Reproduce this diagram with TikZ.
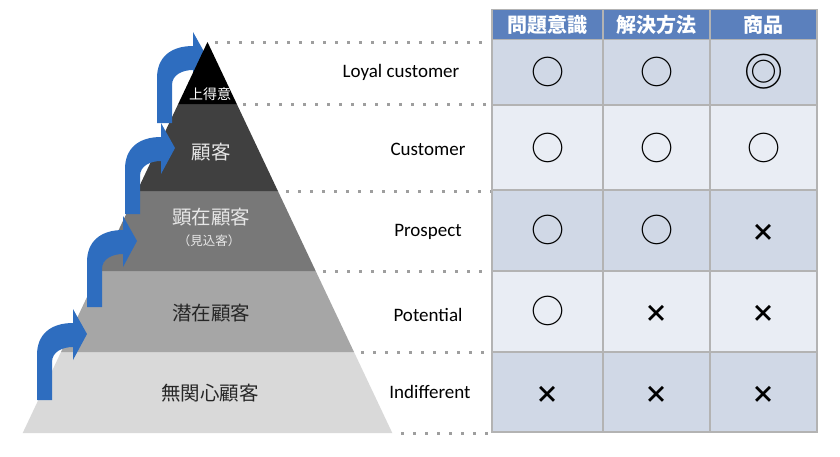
\documentclass[tikz,border=0pt]{standalone}
\usepackage{fontspec}
\setmainfont{Carlito}
\newfontfamily\jp{Noto Sans CJK JP}
\definecolor{arrowblue}{HTML}{2E6DBF}
\definecolor{hdr}{HTML}{5B80BD}
\definecolor{rowA}{HTML}{D0D8E6}
\definecolor{rowB}{HTML}{E9EDF4}
\definecolor{gridc}{HTML}{B3B3B3}
\definecolor{dotc}{HTML}{9E9E9E}
\definecolor{layA}{HTML}{404040}
\definecolor{layB}{HTML}{787878}
\definecolor{layC}{HTML}{A6A6A6}
\definecolor{layD}{HTML}{D9D9D9}
\definecolor{txtlight}{HTML}{E6E6E6}
\definecolor{txtdark}{HTML}{262626}
\newcommand\blueBend[1]{\fill[arrowblue,shift={#1}] (0,0) -- (15,0) -- (15,-38)
  .. controls (15,-48) and (25,-53) .. (36,-53) -- (36,-40) -- (50,-66) -- (36,-91) -- (36,-77)
  .. controls (14,-77) and (0,-66) .. (0,-45) -- cycle;}
\begin{document}
\begin{tikzpicture}[x=1pt,y=-1pt,
  lbl/.style={font=\fontsize{19}{19}\selectfont, text=black, inner sep=0pt},
  jplbl/.style={font=\jp\fontsize{19.5}{20}\selectfont, inner sep=0pt},
  hdrtxt/.style={font=\jp\bfseries\fontsize{20}{20}\selectfont, text=white, inner sep=0pt},
  sym/.style={font=\jp\fontsize{33}{33}\selectfont, text=black, inner sep=0pt},
  dsym/.style={font=\jp\fontsize{39}{39}\selectfont, text=black, inner sep=0pt},
  xsym/.style={font=\jp\bfseries\fontsize{24}{24}\selectfont, text=black, inner sep=0pt},
  dotline/.style={dotc, line width=3pt, dash pattern=on 3pt off 9pt},
  gridline/.style={gridc, line width=1.5pt}]
\useasboundingbox (0,0) rectangle (840,456);
% dotted guide lines
\coordinate (d0a) at (215,42);  \coordinate (d0b) at (492,42);
\coordinate (d1a) at (243,104); \coordinate (d1b) at (492,104);
\coordinate (d2a) at (286,191); \coordinate (d2b) at (492,191);
\coordinate (d3a) at (323,271); \coordinate (d3b) at (492,271);
\coordinate (d4a) at (361,352); \coordinate (d4b) at (492,352);
\coordinate (d5a) at (401,433); \coordinate (d5b) at (492,433);
\foreach \i in {0,...,5} {\draw[dotline] (d\i a) -- (d\i b);}
% pyramid layers
\fill[layD] (61,352) -- (354,352) -- (392.3,433) -- (22.7,433) -- cycle;
\fill[layC] (99.3,271) -- (315.7,271) -- (354,352) -- (61,352) -- cycle;
\fill[layB] (137.1,191) -- (277.9,191) -- (315.7,271) -- (99.3,271) -- cycle;
\fill[layA] (178.2,104) -- (236.8,104) -- (277.9,191) -- (137.1,191) -- cycle;
% arrows
\blueBend{(37,400)}
\blueBend{(87,307)}
\blueBend{(125,214)}
\blueBend{(157,123)}
% top
\fill[black] (207.5,42) -- (236.8,104) -- (178.2,104) -- cycle;
% pyramid labels
\node[jplbl, text=white, font=\jp\fontsize{14}{14}\selectfont] (p0) at (210,94) {上得意};
\node[jplbl, text=txtlight] (p1) at (211,152) {顧客};
\node[jplbl, text=txtlight] (p2) at (211,217) {顕在顧客};
\node[jplbl, text=txtlight, font=\jp\fontsize{12.5}{13}\selectfont] (p2b) at (209,241) {（見込客）};
\node[jplbl, text=txtdark] (p3) at (211,313) {潜在顧客};
\node[jplbl, text=txtdark] (p4) at (210,393) {無関心顧客};
% middle labels
\node[lbl] (m0) at (401,72) {Loyal customer};
\node[lbl] (m1) at (428,149) {Customer};
\node[lbl] (m2) at (428,232) {Prospect};
\node[lbl] (m3) at (428,315) {Potential};
\node[lbl] (m4) at (430,392) {Indifferent};
% table
\fill[hdr] (492,9.5) rectangle (817,39.5);
\fill[rowA] (492,39.5) rectangle (817,105);
\fill[rowB] (492,105) rectangle (817,190);
\fill[rowA] (492,190) rectangle (817,271);
\fill[rowB] (492,271) rectangle (817,352);
\fill[rowA] (492,352) rectangle (817,432);
\foreach \yy in {39.5,105,190,271,352} {\draw[gridline] (492,\yy) -- (817,\yy);}
\foreach \xx in {603,710} {\draw[gridline] (\xx,9.5) -- (\xx,432);}
\draw[gridline] (492,9.5) rectangle (817,432);
\node[hdrtxt] (h1) at (547.5,24.5) {問題意識};
\node[hdrtxt] (h2) at (656.5,24.5) {解決方法};
\node[hdrtxt] (h3) at (763.5,24.5) {商品};
% symbols
\node[sym] (s11) at (547.5,72) {○};
\node[sym] (s12) at (656.5,72) {○};
\node[dsym] (s13) at (763.5,72) {◎};
\node[sym] (s21) at (547.5,147.5) {○};
\node[sym] (s22) at (656.5,147.5) {○};
\node[sym] (s23) at (763.5,147.5) {○};
\node[sym] (s31) at (547.5,230) {○};
\node[sym] (s32) at (656.5,230) {○};
\node[xsym] (s33) at (763.5,233) {×};
\node[sym] (s41) at (547.5,311) {○};
\node[xsym] (s42) at (656.5,314) {×};
\node[xsym] (s43) at (763.5,314) {×};
\node[xsym] (s51) at (547.5,395) {×};
\node[xsym] (s52) at (656.5,395) {×};
\node[xsym] (s53) at (763.5,395) {×};
\end{tikzpicture}
\end{document}
